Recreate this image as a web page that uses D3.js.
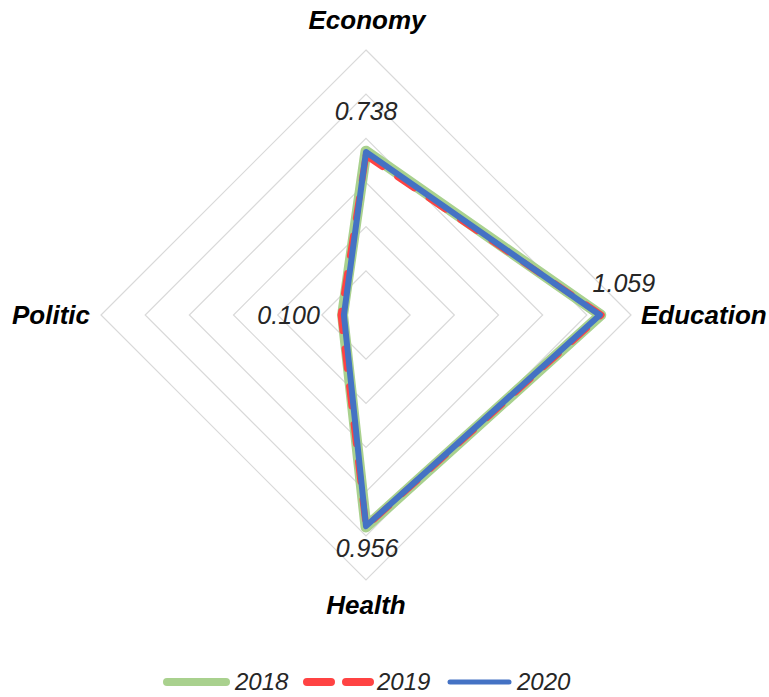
<!DOCTYPE html>
<html>
<head>
<meta charset="utf-8">
<script src="https://cdn.jsdelivr.net/npm/d3@7"></script>
<style>
  html, body { margin: 0; padding: 0; background: #fff; }
  svg { display: block; }
</style>
</head>
<body>
<svg id="chart" width="769" height="697"></svg>
<script>
const categories = ["Economy", "Education", "Health", "Politic"];
const seriesNames = ["2018", "2019", "2020"];
const values2018 = [0.742, 1.063, 0.960, 0.106];
const values2019 = [0.722, 1.066, 0.958, 0.114];
const values2020 = [0.738, 1.059, 0.956, 0.100];
const gridLevels = [0.2, 0.4, 0.6, 0.8, 1.0, 1.2];
const dataLabels = ["0.738", "1.059", "0.956", "0.100"];

const svg = d3.select("#chart");
const cx = 366, cy = 315, R = 265;
const r = d3.scaleLinear().domain([0, 1.2]).range([0, R]);
const angle = d3.scalePoint().domain(categories).range([0, 2 * Math.PI * 3 / 4]);

const g = svg.append("g").attr("transform", `translate(${cx},${cy})`);

// grid diamonds
const gridLine = d3.lineRadial()
  .angle(d => angle(d.c))
  .radius(d => r(d.v))
  .curve(d3.curveLinearClosed);

g.selectAll("path.grid").data(gridLevels).join("path")
  .attr("class", "grid")
  .attr("d", lv => gridLine(categories.map(c => ({c, v: lv}))))
  .attr("fill", "none")
  .attr("stroke", "#d9d9d9")
  .attr("stroke-width", 1.2);

const series = [
  {name: seriesNames[0], vals: values2018, color: "#a9d18e", width: 11, dash: null},
  {name: seriesNames[1], vals: values2019, color: "#ff4343", width: 6.5, dash: "20,18"},
  {name: seriesNames[2], vals: values2020, color: "#4472c4", width: 6, dash: null}
];

series.forEach(s => {
  g.append("path")
    .attr("d", gridLine(categories.map((c, i) => ({c, v: s.vals[i]}))))
    .attr("fill", "none")
    .attr("stroke", s.color)
    .attr("stroke-width", s.width)
    .attr("stroke-linejoin", "round")
    .attr("stroke-linecap", s.dash ? "round" : "butt")
    .attr("stroke-dasharray", s.dash);
});

// category labels
const catFont = "'Liberation Sans', Arial, sans-serif";
const catPos = {
  Economy:   {dx: 1,    dy: 29 - cy, anchor: "middle"},
  Education: {dx: 641 - cx, dy: 324 - cy, anchor: "start"},
  Health:    {dx: 0,    dy: 614 - cy, anchor: "middle"},
  Politic:   {dx: 90 - cx, dy: 324 - cy, anchor: "end"}
};
categories.forEach(c => {
  const p = catPos[c];
  g.append("text")
    .attr("x", p.dx).attr("y", p.dy)
    .attr("text-anchor", p.anchor)
    .attr("font-family", catFont)
    .attr("font-size", 26)
    .attr("font-weight", "bold")
    .attr("font-style", "italic")
    .attr("fill", "#000")
    .text(c);
});

// data labels for 2020 series
const labelOffsets = [
  {x: 0, y: -32, anchor: "middle"},
  {x: 24, y: -23, anchor: "middle"},
  {x: 1, y: 31, anchor: "middle"},
  {x: -24, y: 9, anchor: "end"}
];
categories.forEach((c, i) => {
  const a = angle(c), rr = r(values2020[i]);
  const px = rr * Math.sin(a), py = -rr * Math.cos(a);
  const o = labelOffsets[i];
  g.append("text")
    .attr("x", px + o.x).attr("y", py + o.y)
    .attr("text-anchor", o.anchor)
    .attr("font-family", catFont)
    .attr("font-size", 25)
    .attr("font-style", "italic")
    .attr("fill", "#262626")
    .text(dataLabels[i]);
});

// legend
const legendItems = [
  {x1: 167, x2: 226, tx: 235},
  {x1: 307, x2: 370, tx: 377},
  {x1: 450, x2: 509, tx: 517}
];
const ly = 682;
series.forEach((s, i) => {
  const it = legendItems[i];
  svg.append("line")
    .attr("x1", it.x1).attr("x2", it.x2)
    .attr("y1", ly).attr("y2", ly)
    .attr("stroke", s.color)
    .attr("stroke-width", i === 2 ? 5 : 8)
    .attr("stroke-linecap", "round")
    .attr("stroke-dasharray", s.dash ? "24,15" : null);
  svg.append("text")
    .attr("x", it.tx).attr("y", ly + 8)
    .attr("font-family", catFont)
    .attr("font-size", 24)
    .attr("font-style", "italic")
    .attr("fill", "#262626")
    .text(s.name);
});
</script>
</body>
</html>
